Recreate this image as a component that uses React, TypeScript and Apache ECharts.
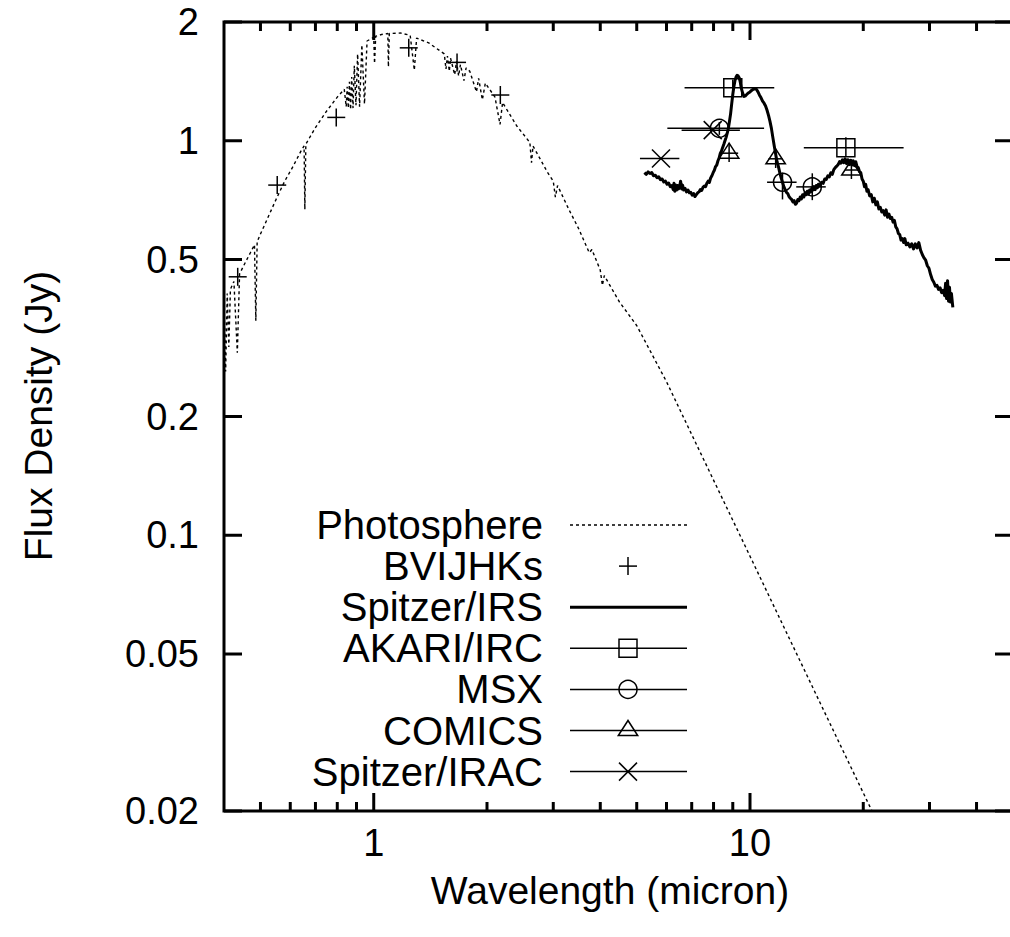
import React, { useEffect, useRef } from "react";
import * as echarts from "echarts";

const FONT = "'Liberation Sans', Arial, Helvetica, sans-serif";

// ---- axis ticks ----
const X_MIN = 0.4;
const X_MAX = 50;
const Y_MIN = 0.02;
const Y_MAX = 2;
const xMajorTicks = [1, 10];
const xMajorLabels = ["1", "10"];
const xMinorTicks = [0.5, 0.6, 0.7, 0.8, 0.9, 2, 3, 4, 5, 6, 7, 8, 9, 20, 30, 40];
const yTicks = [0.02, 0.05, 0.1, 0.2, 0.5, 1, 2];
const yTickLabels = ["0.02", "0.05", "0.1", "0.2", "0.5", "1", "2"];

// ---- photosphere model (micron, Jy) ----
const photoWave = [
  0.4, 0.404, 0.408, 0.412, 0.416, 0.425, 0.434, 0.44, 0.455, 0.47, 0.482, 0.486, 0.49, 0.5, 0.52,
  0.55, 0.58, 0.61, 0.64, 0.653, 0.656, 0.66, 0.7, 0.75, 0.8, 0.835, 0.845, 0.85, 0.856, 0.862,
  0.868, 0.874, 0.881, 0.888, 0.897, 0.906, 0.917, 0.93, 0.945, 0.96, 0.98, 1.0, 1.005, 1.012,
  1.05, 1.09, 1.094, 1.1, 1.18, 1.25, 1.282, 1.3, 1.4, 1.5, 1.54, 1.556, 1.57, 1.588, 1.6, 1.641,
  1.66, 1.681, 1.7, 1.737, 1.76, 1.8, 1.875, 1.9, 1.944, 1.98, 2.1, 2.166, 2.2, 2.4, 2.6, 2.626,
  2.65, 2.9, 3.0, 3.039, 3.08, 3.3, 3.5, 3.74, 3.8, 4.0, 4.052, 4.1, 4.5, 5.0, 6.0, 7.0, 8.0, 10.0,
  12.0, 15.0, 18.0, 22.0,
];
const photoFlux = [
  0.4, 0.26, 0.41, 0.3, 0.42, 0.44, 0.29, 0.46, 0.49, 0.52, 0.545, 0.35, 0.555, 0.58, 0.63,
  0.71, 0.79, 0.86, 0.94, 0.97, 0.67, 0.98, 1.08, 1.19, 1.29, 1.35, 1.22, 1.37, 1.21, 1.41,
  1.2, 1.45, 1.21, 1.55, 1.23, 1.66, 1.22, 1.75, 1.24, 1.79, 1.81, 1.83, 1.57, 1.84,
  1.86, 1.87, 1.54, 1.87, 1.875, 1.85, 1.51, 1.82, 1.77, 1.69, 1.66, 1.52, 1.64, 1.5, 1.62, 1.47,
  1.59, 1.46, 1.56, 1.42, 1.53, 1.5, 1.33, 1.44, 1.27, 1.4, 1.29, 1.1, 1.25, 1.09, 0.99, 0.88,
  0.97, 0.83, 0.79, 0.72, 0.77, 0.67, 0.6, 0.52, 0.53, 0.47, 0.43, 0.455, 0.39, 0.34, 0.245, 0.18,
  0.138, 0.0885, 0.0615, 0.0394, 0.0274, 0.0184,
];

// ---- Spitzer/IRS spectrum ----
const irsWave = [
  5.24, 5.3, 5.36, 5.42, 5.48, 5.54, 5.6, 5.66, 5.72, 5.78, 5.84, 5.9, 5.96, 6.02, 6.08, 6.14, 6.2,
  6.25, 6.28, 6.31, 6.34, 6.38, 6.42, 6.46, 6.5, 6.54, 6.58, 6.62, 6.66, 6.72, 6.78, 6.84, 6.9,
  6.96, 7.02, 7.08, 7.14, 7.2, 7.26, 7.32, 7.38, 7.44, 7.5, 7.56, 7.62, 7.68, 7.74, 7.8, 7.86,
  7.92, 7.98, 8.04, 8.1, 8.16, 8.22, 8.28, 8.34, 8.4, 8.46, 8.52, 8.58, 8.64, 8.7, 8.76, 8.82,
  8.88, 8.94, 9.0, 9.06, 9.12, 9.18, 9.24, 9.3, 9.36, 9.42, 9.48, 9.56, 9.64, 9.72, 9.8, 9.9,
  10.0, 10.1, 10.2, 10.3, 10.4, 10.5, 10.6, 10.7, 10.8, 10.9, 11.0, 11.1, 11.2, 11.3, 11.4, 11.5,
  11.6, 11.7, 11.8, 11.9, 12.0, 12.1, 12.2, 12.3, 12.4, 12.5, 12.6, 12.7, 12.8, 12.9, 13.0, 13.1,
  13.2, 13.3, 13.4, 13.5, 13.6, 13.7, 13.8, 13.9, 14.0, 14.1, 14.2, 14.3, 14.4, 14.5, 14.6, 14.7,
  14.8, 14.9, 15.0, 15.1, 15.2, 15.35, 15.5, 15.65, 15.8, 15.95, 16.1, 16.25, 16.4, 16.55, 16.7,
  16.85, 17.0, 17.15, 17.3, 17.45, 17.6, 17.75, 17.9, 18.05, 18.2, 18.35, 18.5, 18.65, 18.8,
  18.95, 19.1, 19.25, 19.4, 19.55, 19.7, 19.85, 20.0, 20.15, 20.3, 20.45, 20.6, 20.8, 21.0, 21.2,
  21.4, 21.6, 21.8, 22.0, 22.2, 22.4, 22.6, 22.8, 23.0, 23.2, 23.4, 23.6, 23.8, 24.0, 24.2, 24.4,
  24.6, 24.8, 25.0, 25.2, 25.4, 25.6, 25.8, 26.0, 26.3, 26.6, 26.9, 27.2, 27.5, 27.8, 28.1, 28.4,
  28.7, 29.0, 29.3, 29.6, 29.9, 30.2, 30.5, 30.8, 31.1, 31.4, 31.7, 32.0, 32.3, 32.6, 32.9, 33.1,
  33.3, 33.5, 33.7, 33.9, 34.1, 34.3, 34.6,
];
const irsFlux = [
  0.83, 0.822, 0.834, 0.826, 0.831, 0.815, 0.818, 0.806, 0.81, 0.797, 0.8, 0.786, 0.79, 0.776,
  0.781, 0.765, 0.77, 0.752, 0.78, 0.745, 0.772, 0.75, 0.77, 0.755, 0.765, 0.79, 0.755, 0.772,
  0.75, 0.757, 0.742, 0.75, 0.738, 0.74, 0.728, 0.735, 0.722, 0.73, 0.738, 0.742, 0.752, 0.748,
  0.762, 0.768, 0.765, 0.78, 0.79, 0.784, 0.805, 0.815, 0.83, 0.842, 0.86, 0.868, 0.89, 0.905,
  0.93, 0.942, 0.962, 0.98, 1.0, 1.02, 1.045, 1.075, 1.12, 1.17, 1.24, 1.31, 1.37, 1.42, 1.45,
  1.465, 1.46, 1.445, 1.41, 1.36, 1.32, 1.295, 1.3, 1.31, 1.322, 1.33, 1.342, 1.35, 1.355, 1.35,
  1.33, 1.305, 1.285, 1.26, 1.245, 1.225, 1.195, 1.16, 1.12, 1.075, 1.02, 0.97, 0.925, 0.885,
  0.86, 0.83, 0.805, 0.785, 0.765, 0.752, 0.74, 0.735, 0.722, 0.715, 0.71, 0.7, 0.705, 0.69,
  0.695, 0.71, 0.705, 0.72, 0.712, 0.73, 0.72, 0.738, 0.73, 0.745, 0.732, 0.75, 0.742, 0.758,
  0.75, 0.765, 0.752, 0.77, 0.76, 0.776, 0.768, 0.785, 0.78, 0.8, 0.798, 0.815, 0.81, 0.83,
  0.822, 0.845, 0.855, 0.862, 0.87, 0.885, 0.878, 0.895, 0.88, 0.9, 0.875, 0.895, 0.87, 0.892,
  0.868, 0.89, 0.865, 0.885, 0.86, 0.855, 0.835, 0.83, 0.8, 0.79, 0.765, 0.775, 0.745, 0.752,
  0.725, 0.73, 0.7, 0.715, 0.688, 0.7, 0.672, 0.678, 0.66, 0.665, 0.648, 0.668, 0.64, 0.652,
  0.635, 0.64, 0.622, 0.628, 0.605, 0.598, 0.582, 0.578, 0.56, 0.565, 0.552, 0.565, 0.545, 0.55,
  0.538, 0.548, 0.532, 0.548, 0.535, 0.552, 0.528, 0.515, 0.505, 0.498, 0.482, 0.475, 0.458,
  0.445, 0.438, 0.428, 0.43, 0.42, 0.424, 0.412, 0.418, 0.405, 0.435, 0.398, 0.442, 0.392, 0.425,
  0.39, 0.41, 0.378,
];

// ---- photometry: [wavelength, flux] ----
const bvijhks = [
  [0.435, 0.452],
  [0.554, 0.772],
  [0.795, 1.146],
  [1.239, 1.72],
  [1.665, 1.58],
  [2.17, 1.306],
];
// [wavelength, flux, waveLow, waveHigh, fluxLow, fluxHigh]
const akariIrc = [
  [9.0, 1.363, 6.7, 11.6, 1.3, 1.43],
  [17.98, 0.96, 13.9, 25.6, 0.911, 1.02],
];
const msx = [
  [8.29, 1.075, 6.03, 10.9, 1.035, 1.115],
  [12.2, 0.785, 11.1, 13.3, 0.71, 0.83],
  [14.64, 0.764, 13.27, 15.9, 0.707, 0.827],
];
const comics = [
  [8.8, 0.93, 8.35, 9.3, 0.883, 0.986],
  [11.7, 0.9, 11.2, 12.2, 0.853, 0.947],
  [18.6, 0.843, 17.9, 19.6, 0.8, 0.89],
];
const spitzerIrac = [
  [5.8, 0.902, 5.1, 6.49, 0.902, 0.902],
  [7.96, 1.064, 6.58, 9.4, 1.064, 1.064],
];

const legendNames = [
  "Photosphere",
  "BVIJHKs",
  "Spitzer/IRS",
  "AKARI/IRC",
  "MSX",
  "COMICS",
  "Spitzer/IRAC",
];

const BLACK = "#000";
const THIN = { stroke: BLACK, lineWidth: 1.5, fill: "none" };

function markerShapes(kind: string, x: number, y: number): any[] {
  const s = 9;
  switch (kind) {
    case "plus":
      return [
        { type: "line", shape: { x1: x - s, y1: y, x2: x + s, y2: y }, style: THIN },
        { type: "line", shape: { x1: x, y1: y - s, x2: x, y2: y + s }, style: THIN },
      ];
    case "square":
      return [{ type: "rect", shape: { x: x - s, y: y - s, width: 2 * s, height: 2 * s }, style: THIN }];
    case "circle":
      return [{ type: "circle", shape: { cx: x, cy: y, r: s }, style: THIN }];
    case "triangle":
      return [
        {
          type: "polygon",
          shape: { points: [[x, y - 10], [x - 9.7, y + 5], [x + 9.7, y + 5]] },
          style: THIN,
        },
      ];
    case "cross":
    default:
      return [
        { type: "line", shape: { x1: x - s, y1: y - s, x2: x + s, y2: y + s }, style: THIN },
        { type: "line", shape: { x1: x - s, y1: y + s, x2: x + s, y2: y - s }, style: THIN },
      ];
  }
}

function errorRenderer(kind: string) {
  return (params: any, api: any) => {
    const w = api.value(0);
    const f = api.value(1);
    const wl = api.value(2);
    const wh = api.value(3);
    const fl = api.value(4);
    const fh = api.value(5);
    const c = api.coord([w, f]);
    const children: any[] = [];
    if (wl !== wh) {
      const a = api.coord([wl, f]);
      const b = api.coord([wh, f]);
      children.push({ type: "line", shape: { x1: a[0], y1: a[1], x2: b[0], y2: b[1] }, style: THIN });
    }
    if (fl !== fh) {
      const a = api.coord([w, fl]);
      const b = api.coord([w, fh]);
      children.push({ type: "line", shape: { x1: a[0], y1: a[1], x2: b[0], y2: b[1] }, style: THIN });
    }
    children.push(...markerShapes(kind, c[0], c[1]));
    return { type: "group", children };
  };
}

function plusRenderer(params: any, api: any) {
  const c = api.coord([api.value(0), api.value(1)]);
  return { type: "group", children: markerShapes("plus", c[0], c[1]) };
}

const TICK = { stroke: BLACK, lineWidth: 3 };
const TICK_FONT = 38;

function xTickRenderer(major: boolean) {
  return (params: any, api: any) => {
    const v = api.value(0);
    const b = api.coord([v, Y_MIN]);
    const t = api.coord([v, Y_MAX]);
    const len = major ? 18 : 9;
    const children: any[] = [
      { type: "line", shape: { x1: b[0], y1: b[1], x2: b[0], y2: b[1] - len }, style: TICK },
      { type: "line", shape: { x1: t[0], y1: t[1], x2: t[0], y2: t[1] + len }, style: TICK },
    ];
    if (major) {
      children.push({
        type: "text",
        x: b[0],
        y: b[1] + 32,
        style: {
          text: xMajorLabels[params.dataIndex],
          fill: BLACK,
          fontSize: TICK_FONT,
          fontFamily: FONT,
          align: "center",
          verticalAlign: "middle",
        },
      });
    }
    return { type: "group", children };
  };
}

function yTickRenderer(params: any, api: any) {
  const v = api.value(1);
  const l = api.coord([X_MIN, v]);
  const r = api.coord([X_MAX, v]);
  return {
    type: "group",
    children: [
      { type: "line", shape: { x1: l[0], y1: l[1], x2: l[0] + 18, y2: l[1] }, style: TICK },
      { type: "line", shape: { x1: r[0], y1: r[1], x2: r[0] - 18, y2: r[1] }, style: TICK },
      {
        type: "text",
        x: l[0] - 25,
        y: l[1],
        style: {
          text: yTickLabels[params.dataIndex],
          fill: BLACK,
          fontSize: TICK_FONT,
          fontFamily: FONT,
          align: "right",
          verticalAlign: "middle",
        },
      },
    ],
  };
}

function buildLegend(): any[] {
  const els: any[] = [];
  const top = 525;
  const step = 41.1;
  const textRight = 543;
  const lineL = 570;
  const lineR = 687;
  const mx = 628;
  const kinds = ["dotted", "plus", "thick", "square", "circle", "triangle", "cross"];
  legendNames.forEach((name, i) => {
    const y = top + i * step;
    els.push({
      type: "text",
      x: textRight,
      y,
      style: {
        text: name,
        fill: BLACK,
        fontSize: 40,
        fontFamily: FONT,
        align: "right",
        verticalAlign: "middle",
      },
    });
    const k = kinds[i];
    if (k === "dotted") {
      els.push({
        type: "line",
        shape: { x1: lineL, y1: y, x2: lineR, y2: y },
        style: { stroke: BLACK, lineWidth: 1.3, lineDash: [3, 3] },
      });
    } else if (k === "thick") {
      els.push({
        type: "line",
        shape: { x1: lineL, y1: y, x2: lineR, y2: y },
        style: { stroke: BLACK, lineWidth: 3 },
      });
    } else if (k === "plus") {
      els.push(...markerShapes("plus", mx, y));
    } else {
      els.push({ type: "line", shape: { x1: lineL, y1: y, x2: lineR, y2: y }, style: THIN });
      els.push(...markerShapes(k, mx, y));
    }
  });
  return els;
}

const option: any = {
  animation: false,
  backgroundColor: "#fff",
  grid: {
    left: 224,
    top: 22,
    width: 789,
    height: 789,
    show: true,
    borderColor: BLACK,
    borderWidth: 3,
    backgroundColor: "transparent",
  },
  xAxis: {
    type: "log",
    logBase: 10,
    min: X_MIN,
    max: X_MAX,
    axisLine: { show: false },
    axisTick: { show: false },
    axisLabel: { show: false },
    splitLine: { show: false },
  },
  yAxis: {
    type: "log",
    logBase: 10,
    min: Y_MIN,
    max: Y_MAX,
    axisLine: { show: false },
    axisTick: { show: false },
    axisLabel: { show: false },
    splitLine: { show: false },
  },
  series: [
    {
      name: "Photosphere",
      type: "line",
      data: photoWave.map((w, i) => [w, photoFlux[i]]),
      showSymbol: false,
      symbol: "none",
      clip: true,
      lineStyle: { color: BLACK, width: 1.4, type: [3, 3] },
      z: 2,
      silent: true,
    },
    {
      name: "Spitzer/IRS",
      type: "line",
      data: irsWave.map((w, i) => [w, irsFlux[i]]),
      showSymbol: false,
      symbol: "none",
      clip: true,
      lineStyle: { color: BLACK, width: 3, join: "round" },
      z: 3,
      silent: true,
    },
    { name: "BVIJHKs", type: "custom", data: bvijhks, renderItem: plusRenderer, z: 4, silent: true },
    { name: "AKARI/IRC", type: "custom", data: akariIrc, renderItem: errorRenderer("square"), z: 4, silent: true },
    { name: "MSX", type: "custom", data: msx, renderItem: errorRenderer("circle"), z: 4, silent: true },
    { name: "COMICS", type: "custom", data: comics, renderItem: errorRenderer("triangle"), z: 4, silent: true },
    { name: "Spitzer/IRAC", type: "custom", data: spitzerIrac, renderItem: errorRenderer("cross"), z: 4, silent: true },
    {
      name: "xMajor",
      type: "custom",
      data: xMajorTicks.map((v) => [v, Y_MIN]),
      renderItem: xTickRenderer(true),
      z: 10,
      silent: true,
    },
    {
      name: "xMinor",
      type: "custom",
      data: xMinorTicks.map((v) => [v, Y_MIN]),
      renderItem: xTickRenderer(false),
      z: 10,
      silent: true,
    },
    {
      name: "yTicks",
      type: "custom",
      data: yTicks.map((v) => [X_MIN, v]),
      renderItem: yTickRenderer,
      z: 10,
      silent: true,
    },
  ],
  graphic: [
    ...buildLegend(),
    {
      type: "text",
      x: 610,
      y: 890,
      style: {
        text: "Wavelength (micron)",
        fill: BLACK,
        fontSize: 39,
        fontFamily: FONT,
        align: "center",
        verticalAlign: "middle",
      },
    },
    {
      type: "text",
      x: 38,
      y: 416,
      rotation: Math.PI / 2,
      style: {
        text: "Flux Density (Jy)",
        fill: BLACK,
        fontSize: 39,
        fontFamily: FONT,
        align: "center",
        verticalAlign: "middle",
      },
    },
  ],
};

export default function App() {
  const ref = useRef<HTMLDivElement>(null);
  useEffect(() => {
    if (!ref.current) return;
    const chart = echarts.init(ref.current, null, { renderer: "svg" });
    chart.setOption(option);
    return () => chart.dispose();
  }, []);
  return (
    <div
      style={{
        position: "absolute",
        left: 0,
        top: 0,
        width: 1010,
        height: 937,
        overflow: "hidden",
        background: "#fff",
      }}
    >
      <div ref={ref} style={{ width: 1040, height: 937 }} />
    </div>
  );
}
